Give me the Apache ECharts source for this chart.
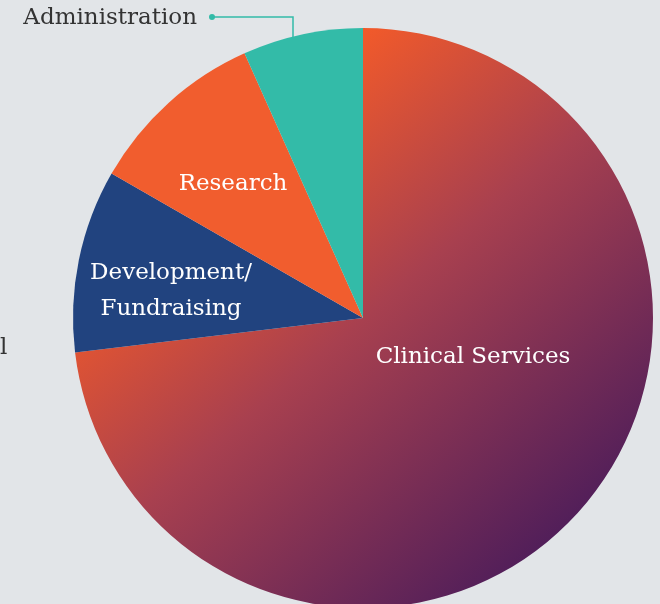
<!DOCTYPE html>
<html lang="en">
<head>
    <meta charset="UTF-8">
    <title>Expense breakdown</title>
    <style>
        html, body {
            margin: 0;
            padding: 0;
            width: 100%;
            height: 100%;
            background: #e2e5e8;
        }
        #main {
            width: 660px;
            height: 604px;
        }
    </style>
</head>
<body>
    <div id="main"></div>
    <script src="https://cdn.jsdelivr.net/npm/echarts@6/dist/echarts.min.js"></script>
    <script>
        // data
        var categories = ['Clinical Services', 'Development/\nFundraising', 'Research', 'Administration'];
        var values = [73.1, 10.2, 10.0, 6.7];
        var sliceColors = ['clinical', '#21437f', '#f15d2e', '#33bba8'];

        // where each label sits (x, y, align)
        var labelSpots = [
            [473, 357, 'center'],
            [171, 291, 'center'],
            [233, 184, 'center'],
            [197, 18, 'right']
        ];

        var font = '"DejaVu Serif", "Liberation Serif", serif';

        var clinicalFill = new echarts.graphic.LinearGradient(220, 151, 578, 569, [
            { offset: 0, color: '#f25a2a' },
            { offset: 0.4, color: '#a8404f' },
            { offset: 1, color: '#461a5b' }
        ], true);

        var pieData = categories.map(function (name, i) {
            var item = {
                name: name,
                value: values[i],
                itemStyle: { color: sliceColors[i] === 'clinical' ? clinicalFill : sliceColors[i] }
            };
            if (i === 3) {
                item.label = { position: 'outside', color: '#333333' };
                item.labelLine = { show: true, lineStyle: { color: '#33bba8', width: 1.5 } };
            }
            return item;
        });

        var myChart = echarts.init(document.getElementById('main'));
        var option = {
            backgroundColor: '#e2e5e8',
            animation: false,
            graphic: [
                {
                    type: 'circle',
                    shape: { cx: 212, cy: 17, r: 3 },
                    style: { fill: '#33bba8' }
                },
                {
                    type: 'text',
                    left: 0,
                    top: 337,
                    style: { text: 'l', font: '23px ' + font, fill: '#333333' }
                }
            ],
            series: [{
                type: 'pie',
                center: [363, 318],
                radius: 290,
                startAngle: 90,
                clockwise: true,
                silent: true,
                label: {
                    show: true,
                    position: 'inside',
                    color: '#ffffff',
                    fontFamily: font,
                    fontSize: 23,
                    lineHeight: 36,
                    align: 'center'
                },
                labelLine: { show: false },
                labelLayout: function (params) {
                    var s = labelSpots[params.dataIndex];
                    var out = {
                        x: s[0],
                        y: s[1],
                        align: s[2],
                        verticalAlign: 'middle'
                    };
                    if (params.dataIndex === 3) {
                        out.labelLinePoints = [[293, 37], [293, 17], [212, 17]];
                    }
                    return out;
                },
                data: pieData
            }]
        };
        myChart.setOption(option);
    </script>
</body>
</html>
